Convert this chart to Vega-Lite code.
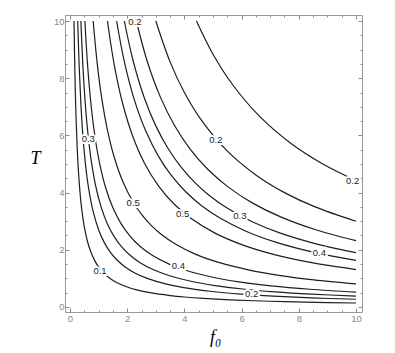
{
  "$schema": "https://vega.github.io/schema/vega-lite/v6.json",
  "width": 297,
  "height": 297,
  "autosize": {"type": "none"},
  "padding": {"left": 65, "top": 15, "right": 33, "bottom": 41},
  "background": "white",
  "config": {
    "view": {"stroke": "#9a9a9a", "strokeWidth": 1},
    "axis": {
      "domain": false,
      "grid": false,
      "tickColor": "#8a8a8a",
      "tickWidth": 1,
      "labelFont": "Liberation Sans",
      "labelFontSize": 9.5,
      "labelColor": "#888888",
      "titleFont": "Liberation Serif",
      "titleFontStyle": "italic",
      "titleFontWeight": "normal",
      "titleFontSize": 18,
      "titleColor": "#000000"
    }
  },
  "datasets": {
    "curves": [
      {"curve": "c1", "f0": 0.14, "T": 10}, {"curve": "c1", "f0": 0.17, "T": 8.235}, {"curve": "c1", "f0": 0.2, "T": 7}, {"curve": "c1", "f0": 0.25, "T": 5.6}, {"curve": "c1", "f0": 0.3, "T": 4.667}, {"curve": "c1", "f0": 0.35, "T": 4}, {"curve": "c1", "f0": 0.4, "T": 3.5}, {"curve": "c1", "f0": 0.5, "T": 2.8}, {"curve": "c1", "f0": 0.6, "T": 2.333}, {"curve": "c1", "f0": 0.7, "T": 2}, {"curve": "c1", "f0": 0.85, "T": 1.647}, {"curve": "c1", "f0": 1, "T": 1.4}, {"curve": "c1", "f0": 1.183, "T": 1.183}, {"curve": "c1", "f0": 1.4, "T": 1}, {"curve": "c1", "f0": 1.647, "T": 0.85}, {"curve": "c1", "f0": 2, "T": 0.7}, {"curve": "c1", "f0": 2.333, "T": 0.6}, {"curve": "c1", "f0": 2.8, "T": 0.5}, {"curve": "c1", "f0": 3.5, "T": 0.4}, {"curve": "c1", "f0": 4, "T": 0.35}, {"curve": "c1", "f0": 4.667, "T": 0.3}, {"curve": "c1", "f0": 5.6, "T": 0.25}, {"curve": "c1", "f0": 7, "T": 0.2}, {"curve": "c1", "f0": 8.235, "T": 0.17}, {"curve": "c1", "f0": 10, "T": 0.14},
      {"curve": "c2", "f0": 0.27, "T": 10}, {"curve": "c2", "f0": 0.32, "T": 8.438}, {"curve": "c2", "f0": 0.38, "T": 7.105}, {"curve": "c2", "f0": 0.45, "T": 6}, {"curve": "c2", "f0": 0.55, "T": 4.909}, {"curve": "c2", "f0": 0.65, "T": 4.154}, {"curve": "c2", "f0": 0.8, "T": 3.375}, {"curve": "c2", "f0": 1, "T": 2.7}, {"curve": "c2", "f0": 1.2, "T": 2.25}, {"curve": "c2", "f0": 1.4, "T": 1.929}, {"curve": "c2", "f0": 1.643, "T": 1.643}, {"curve": "c2", "f0": 1.929, "T": 1.4}, {"curve": "c2", "f0": 2.25, "T": 1.2}, {"curve": "c2", "f0": 2.7, "T": 1}, {"curve": "c2", "f0": 3.375, "T": 0.8}, {"curve": "c2", "f0": 4.154, "T": 0.65}, {"curve": "c2", "f0": 4.909, "T": 0.55}, {"curve": "c2", "f0": 6, "T": 0.45}, {"curve": "c2", "f0": 7.105, "T": 0.38}, {"curve": "c2", "f0": 8.438, "T": 0.32}, {"curve": "c2", "f0": 10, "T": 0.27},
      {"curve": "c3", "f0": 0.38, "T": 10}, {"curve": "c3", "f0": 0.45, "T": 8.444}, {"curve": "c3", "f0": 0.53, "T": 7.17}, {"curve": "c3", "f0": 0.63, "T": 6.032}, {"curve": "c3", "f0": 0.75, "T": 5.067}, {"curve": "c3", "f0": 0.9, "T": 4.222}, {"curve": "c3", "f0": 1.1, "T": 3.455}, {"curve": "c3", "f0": 1.3, "T": 2.923}, {"curve": "c3", "f0": 1.55, "T": 2.452}, {"curve": "c3", "f0": 1.8, "T": 2.111}, {"curve": "c3", "f0": 2.111, "T": 1.8}, {"curve": "c3", "f0": 2.452, "T": 1.55}, {"curve": "c3", "f0": 2.923, "T": 1.3}, {"curve": "c3", "f0": 3.455, "T": 1.1}, {"curve": "c3", "f0": 4.222, "T": 0.9}, {"curve": "c3", "f0": 5.067, "T": 0.75}, {"curve": "c3", "f0": 6.032, "T": 0.63}, {"curve": "c3", "f0": 7.17, "T": 0.53}, {"curve": "c3", "f0": 8.444, "T": 0.45}, {"curve": "c3", "f0": 10, "T": 0.38},
      {"curve": "c4", "f0": 0.52, "T": 10}, {"curve": "c4", "f0": 0.62, "T": 8.387}, {"curve": "c4", "f0": 0.74, "T": 7.027}, {"curve": "c4", "f0": 0.88, "T": 5.909}, {"curve": "c4", "f0": 1.05, "T": 4.952}, {"curve": "c4", "f0": 1.25, "T": 4.16}, {"curve": "c4", "f0": 1.5, "T": 3.467}, {"curve": "c4", "f0": 1.8, "T": 2.889}, {"curve": "c4", "f0": 2.1, "T": 2.476}, {"curve": "c4", "f0": 2.28, "T": 2.28}, {"curve": "c4", "f0": 2.476, "T": 2.1}, {"curve": "c4", "f0": 2.889, "T": 1.8}, {"curve": "c4", "f0": 3.467, "T": 1.5}, {"curve": "c4", "f0": 4.16, "T": 1.25}, {"curve": "c4", "f0": 4.952, "T": 1.05}, {"curve": "c4", "f0": 5.909, "T": 0.88}, {"curve": "c4", "f0": 7.027, "T": 0.74}, {"curve": "c4", "f0": 8.387, "T": 0.62}, {"curve": "c4", "f0": 10, "T": 0.52},
      {"curve": "c5", "f0": 0.81, "T": 10}, {"curve": "c5", "f0": 0.95, "T": 8.526}, {"curve": "c5", "f0": 1.1, "T": 7.364}, {"curve": "c5", "f0": 1.3, "T": 6.231}, {"curve": "c5", "f0": 1.55, "T": 5.226}, {"curve": "c5", "f0": 1.85, "T": 4.378}, {"curve": "c5", "f0": 2.2, "T": 3.682}, {"curve": "c5", "f0": 2.55, "T": 3.176}, {"curve": "c5", "f0": 2.846, "T": 2.846}, {"curve": "c5", "f0": 3.176, "T": 2.55}, {"curve": "c5", "f0": 3.682, "T": 2.2}, {"curve": "c5", "f0": 4.378, "T": 1.85}, {"curve": "c5", "f0": 5.226, "T": 1.55}, {"curve": "c5", "f0": 6.231, "T": 1.3}, {"curve": "c5", "f0": 7.364, "T": 1.1}, {"curve": "c5", "f0": 8.526, "T": 0.95}, {"curve": "c5", "f0": 10, "T": 0.81},
      {"curve": "c6", "f0": 1.31, "T": 10}, {"curve": "c6", "f0": 1.55, "T": 8.452}, {"curve": "c6", "f0": 1.85, "T": 7.081}, {"curve": "c6", "f0": 2.2, "T": 5.955}, {"curve": "c6", "f0": 2.6, "T": 5.038}, {"curve": "c6", "f0": 3.1, "T": 4.226}, {"curve": "c6", "f0": 3.619, "T": 3.619}, {"curve": "c6", "f0": 4.226, "T": 3.1}, {"curve": "c6", "f0": 5.038, "T": 2.6}, {"curve": "c6", "f0": 5.955, "T": 2.2}, {"curve": "c6", "f0": 7.081, "T": 1.85}, {"curve": "c6", "f0": 8.452, "T": 1.55}, {"curve": "c6", "f0": 10, "T": 1.31},
      {"curve": "c7", "f0": 1.63, "T": 10}, {"curve": "c7", "f0": 1.9, "T": 8.579}, {"curve": "c7", "f0": 2.25, "T": 7.244}, {"curve": "c7", "f0": 2.65, "T": 6.151}, {"curve": "c7", "f0": 3.1, "T": 5.258}, {"curve": "c7", "f0": 3.55, "T": 4.592}, {"curve": "c7", "f0": 4.037, "T": 4.037}, {"curve": "c7", "f0": 4.592, "T": 3.55}, {"curve": "c7", "f0": 5.258, "T": 3.1}, {"curve": "c7", "f0": 6.151, "T": 2.65}, {"curve": "c7", "f0": 7.244, "T": 2.25}, {"curve": "c7", "f0": 8.579, "T": 1.9}, {"curve": "c7", "f0": 10, "T": 1.63},
      {"curve": "c8", "f0": 1.9, "T": 10}, {"curve": "c8", "f0": 2.2, "T": 8.636}, {"curve": "c8", "f0": 2.6, "T": 7.308}, {"curve": "c8", "f0": 3.0, "T": 6.333}, {"curve": "c8", "f0": 3.45, "T": 5.507}, {"curve": "c8", "f0": 3.9, "T": 4.872}, {"curve": "c8", "f0": 4.359, "T": 4.359}, {"curve": "c8", "f0": 4.872, "T": 3.9}, {"curve": "c8", "f0": 5.507, "T": 3.45}, {"curve": "c8", "f0": 6.333, "T": 3.0}, {"curve": "c8", "f0": 7.308, "T": 2.6}, {"curve": "c8", "f0": 8.636, "T": 2.2}, {"curve": "c8", "f0": 10, "T": 1.9},
      {"curve": "c9", "f0": 2.32, "T": 10}, {"curve": "c9", "f0": 2.7, "T": 8.593}, {"curve": "c9", "f0": 3.15, "T": 7.365}, {"curve": "c9", "f0": 3.65, "T": 6.356}, {"curve": "c9", "f0": 4.2, "T": 5.524}, {"curve": "c9", "f0": 4.817, "T": 4.817}, {"curve": "c9", "f0": 5.524, "T": 4.2}, {"curve": "c9", "f0": 6.356, "T": 3.65}, {"curve": "c9", "f0": 7.365, "T": 3.15}, {"curve": "c9", "f0": 8.593, "T": 2.7}, {"curve": "c9", "f0": 10, "T": 2.32},
      {"curve": "c10", "f0": 3.0, "T": 10}, {"curve": "c10", "f0": 3.5, "T": 8.571}, {"curve": "c10", "f0": 4.0, "T": 7.5}, {"curve": "c10", "f0": 4.6, "T": 6.522}, {"curve": "c10", "f0": 5.477, "T": 5.477}, {"curve": "c10", "f0": 6.522, "T": 4.6}, {"curve": "c10", "f0": 7.5, "T": 4.0}, {"curve": "c10", "f0": 8.571, "T": 3.5}, {"curve": "c10", "f0": 10, "T": 3.0},
      {"curve": "c11", "f0": 4.42, "T": 10}, {"curve": "c11", "f0": 5.0, "T": 8.84}, {"curve": "c11", "f0": 5.7, "T": 7.754}, {"curve": "c11", "f0": 6.648, "T": 6.648}, {"curve": "c11", "f0": 7.754, "T": 5.7}, {"curve": "c11", "f0": 8.84, "T": 5.0}, {"curve": "c11", "f0": 10, "T": 4.42}
    ],
    "labels": [
      {"f0": 1.05, "T": 1.25, "label": "0.1"},
      {"f0": 6.35, "T": 0.44, "label": "0.2"},
      {"f0": 3.79, "T": 1.45, "label": "0.4"},
      {"f0": 2.21, "T": 3.63, "label": "0.5"},
      {"f0": 3.94, "T": 3.25, "label": "0.5"},
      {"f0": 5.94, "T": 3.19, "label": "0.3"},
      {"f0": 8.72, "T": 1.88, "label": "0.4"},
      {"f0": 9.88, "T": 4.42, "label": "0.2"},
      {"f0": 5.1, "T": 5.84, "label": "0.2"},
      {"f0": 0.64, "T": 5.86, "label": "0.3"},
      {"f0": 2.27, "T": 9.98, "label": "0.2"}
    ]
  },
  "layer": [
    {
      "data": {"name": "curves"},
      "mark": {"type": "line", "interpolate": "catmull-rom", "color": "#1e1e1e", "strokeWidth": 1.2, "clip": true},
      "encoding": {
        "x": {
          "field": "f0", "type": "quantitative",
          "scale": {"domain": [-0.175, 10.21], "nice": false, "zero": false},
          "axis": {
            "orient": "bottom",
            "values": [0, 0.5, 1, 1.5, 2, 2.5, 3, 3.5, 4, 4.5, 5, 5.5, 6, 6.5, 7, 7.5, 8, 8.5, 9, 9.5, 10],
            "tickSize": {"condition": {"test": "datum.value % 2 === 0", "value": -4}, "value": -2},
            "labelExpr": "datum.value % 2 === 0 ? format(datum.value, 'd') : ''",
            "labelPadding": 5,
            "labelFlush": false,
            "labelOverlap": false,
            "title": "f₀",
            "titleX": 150,
            "titleY": 25,
            "titleBaseline": "middle",
            "titleAlign": "center"
          }
        },
        "y": {
          "field": "T", "type": "quantitative",
          "scale": {"domain": [-0.175, 10.21], "nice": false, "zero": false},
          "axis": {
            "orient": "left",
            "values": [0, 0.5, 1, 1.5, 2, 2.5, 3, 3.5, 4, 4.5, 5, 5.5, 6, 6.5, 7, 7.5, 8, 8.5, 9, 9.5, 10],
            "tickSize": {"condition": {"test": "datum.value % 2 === 0", "value": -4}, "value": -2},
            "labelExpr": "datum.value % 2 === 0 ? format(datum.value, 'd') : ''",
            "labelPadding": 5,
            "labelFlush": false,
            "labelOverlap": false,
            "title": "T",
            "titleAngle": 0,
            "titleX": -30,
            "titleY": 143,
            "titleBaseline": "middle",
            "titleAlign": "center"
          }
        },
        "detail": {"field": "curve"}
      }
    },
    {
      "data": {"name": "curves"},
      "mark": {"type": "point", "opacity": 0},
      "encoding": {
        "x": {
          "field": "f0", "type": "quantitative",
          "scale": {"domain": [-0.175, 10.21], "nice": false, "zero": false},
          "axis": {
            "orient": "top",
            "values": [0, 0.5, 1, 1.5, 2, 2.5, 3, 3.5, 4, 4.5, 5, 5.5, 6, 6.5, 7, 7.5, 8, 8.5, 9, 9.5, 10],
            "tickSize": {"condition": {"test": "datum.value % 2 === 0", "value": -4}, "value": -2},
            "labels": false,
            "title": null
          }
        },
        "y": {
          "field": "T", "type": "quantitative",
          "scale": {"domain": [-0.175, 10.21], "nice": false, "zero": false},
          "axis": {
            "orient": "right",
            "values": [0, 0.5, 1, 1.5, 2, 2.5, 3, 3.5, 4, 4.5, 5, 5.5, 6, 6.5, 7, 7.5, 8, 8.5, 9, 9.5, 10],
            "tickSize": {"condition": {"test": "datum.value % 2 === 0", "value": -4}, "value": -2},
            "labels": false,
            "title": null
          }
        }
      }
    },
    {
      "data": {"name": "labels"},
      "mark": {"type": "text", "font": "Liberation Sans", "fontSize": 9.5, "color": "white", "stroke": "white", "strokeWidth": 4, "align": "center", "baseline": "middle"},
      "encoding": {
        "x": {"field": "f0", "type": "quantitative", "scale": {"domain": [-0.175, 10.21], "nice": false, "zero": false}, "axis": null},
        "y": {"field": "T", "type": "quantitative", "scale": {"domain": [-0.175, 10.21], "nice": false, "zero": false}, "axis": null},
        "text": {"field": "label"}
      }
    },
    {
      "data": {"name": "labels"},
      "mark": {"type": "text", "font": "Liberation Sans", "fontSize": 9.5, "color": "#222222", "align": "center", "baseline": "middle"},
      "encoding": {
        "x": {"field": "f0", "type": "quantitative", "scale": {"domain": [-0.175, 10.21], "nice": false, "zero": false}, "axis": null},
        "y": {"field": "T", "type": "quantitative", "scale": {"domain": [-0.175, 10.21], "nice": false, "zero": false}, "axis": null},
        "text": {"field": "label"}
      }
    }
  ],
  "resolve": {"axis": {"x": "independent", "y": "independent"}}
}
